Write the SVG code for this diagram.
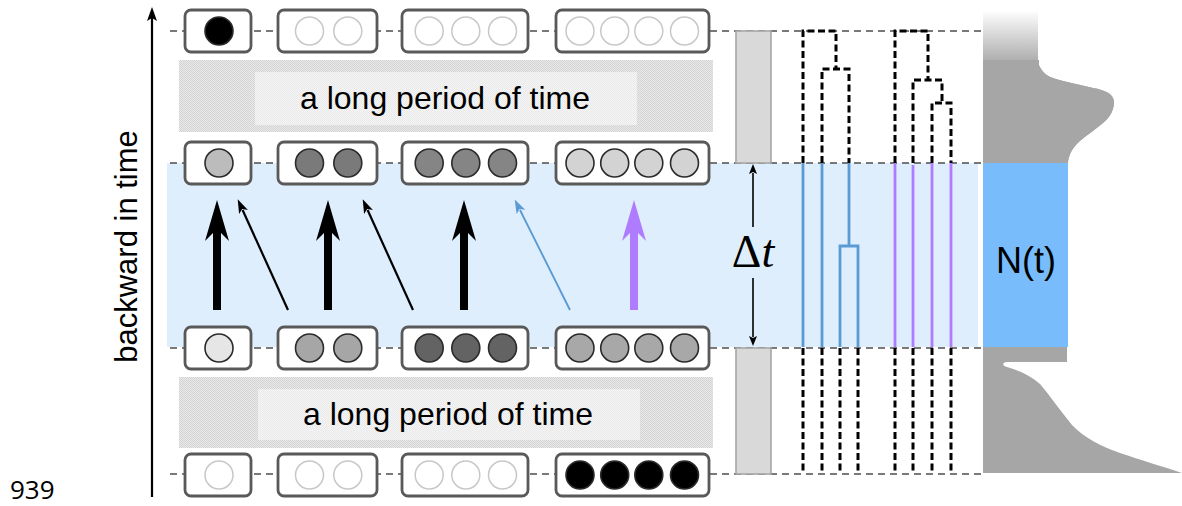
<svg xmlns="http://www.w3.org/2000/svg" width="1182" height="506" viewBox="0 0 1182 506">
<style>
.box{fill:#fff;stroke:#595959;stroke-width:2.8}
.e{fill:#fff;stroke:#c8c8c8;stroke-width:1.5}
.f{stroke:#2b2b2b;stroke-width:1.6}
.hd{stroke:#4d4d4d;stroke-width:1.4;stroke-dasharray:7 5;fill:none}
.vd{stroke:#000;stroke-width:3;stroke-dasharray:7 3.5;fill:none}
.bl{stroke:#5b9bd5;stroke-width:2.8;fill:none}
.pu{stroke:#b07cff;stroke-width:2.8;fill:none}
.lbl{font-family:"Liberation Sans",Arial,sans-serif;fill:#000}
.bar{fill:#d9d9d9;stroke:#a6a6a6;stroke-width:1.6}
</style>
<defs>
<pattern id="dith" width="2" height="2" patternUnits="userSpaceOnUse">
<rect width="2" height="2" fill="#ebebeb"/><rect width="1" height="1" fill="#d2d2d2"/><rect x="1" y="1" width="1" height="1" fill="#d2d2d2"/>
</pattern>
<pattern id="dith2" width="2" height="2" patternUnits="userSpaceOnUse">
<rect width="2" height="2" fill="#f5f5f5"/><rect width="1" height="1" fill="#e9e9e9"/><rect x="1" y="1" width="1" height="1" fill="#e9e9e9"/>
</pattern>
<linearGradient id="fade" x1="0" y1="10" x2="0" y2="66" gradientUnits="userSpaceOnUse">
<stop offset="0" stop-color="#ffffff"/><stop offset="1" stop-color="#a6a6a6"/>
</linearGradient>
<marker id="thinB" markerUnits="userSpaceOnUse" markerWidth="14" markerHeight="10" refX="2" refY="4.5" orient="auto" viewBox="0 0 13 9">
<path d="M0,0 L13,4.5 L0,9 L3,4.5 Z" fill="#5b9bd5"/>
</marker>
<marker id="thinK" markerUnits="userSpaceOnUse" markerWidth="14" markerHeight="10" refX="2" refY="4.5" orient="auto" viewBox="0 0 13 9">
<path d="M0,0 L13,4.5 L0,9 L3,4.5 Z" fill="#000"/>
</marker>
<marker id="dt" markerUnits="userSpaceOnUse" markerWidth="10" markerHeight="8" refX="1" refY="4" orient="auto" viewBox="0 0 10 8">
<path d="M0,0 L10,4 L0,8 L2,4 Z" fill="#000"/>
</marker>
</defs>

<rect width="1182" height="506" fill="#fff"/>

<g id="bands">
<rect x="167" y="163" width="811" height="184" fill="#dfeefd"/>
<rect x="179" y="60" width="534" height="72" fill="url(#dith)"/>
<rect x="255" y="72" width="382" height="53" fill="url(#dith2)"/>
<rect x="179" y="377" width="534" height="71" fill="url(#dith)"/>
<rect x="258" y="389" width="382" height="51" fill="url(#dith2)"/>
<text class="lbl" x="445" y="109" font-size="32" text-anchor="middle">a long period of time</text>
<text class="lbl" x="448" y="425" font-size="32" text-anchor="middle">a long period of time</text>
</g>

<g id="population">
<path d="M983,10 H1038 V62 C1040,70 1046,76 1053,78 C1062,81 1080,85 1093,88 C1105,90 1114,94 1114,102 C1114,112 1108,120 1098,127 C1088,135 1076,142 1071,152 C1069,156 1068,160 1068,163 H983 Z" fill="url(#fade)"/>
<rect x="983" y="60" width="56" height="103" fill="#a6a6a6"/>
<path d="M1038,60 V62 C1040,70 1046,76 1053,78 C1062,81 1080,85 1093,88 C1105,90 1114,94 1114,102 C1114,112 1108,120 1098,127 C1088,135 1076,142 1071,152 C1069,156 1068,160 1068,163 H1030 V60 Z" fill="#a6a6a6"/>
<path d="M983,347 H1067 V362 H1007 C1002,362 1002,366 1007,367 C1018,370 1030,375 1040,384 C1050,396 1060,410 1072,425 C1085,438 1100,446 1120,453 C1140,460 1165,467 1182,473 H983 Z" fill="#a6a6a6"/>
<rect x="983" y="163" width="85" height="184" fill="#78bcfb"/>
<text class="lbl" x="1026" y="273" font-size="36" text-anchor="middle">N(t)</text>
</g>

<g id="guides">
<line class="hd" x1="170" y1="31" x2="985" y2="31"/>
<line class="hd" x1="170" y1="163" x2="985" y2="163"/>
<line class="hd" x1="170" y1="348" x2="985" y2="348"/>
<line class="hd" x1="170" y1="474" x2="985" y2="474"/>
</g>

<g id="axis">
<line x1="152" y1="497" x2="152" y2="18" stroke="#000" stroke-width="2.2"/>
<path d="M152,7 L157,21 L152,18 L147,21 Z" fill="#000"/>
<text class="lbl" transform="translate(137,246.5) rotate(-90)" font-size="31" text-anchor="middle">backward in time</text>
<text x="10" y="499" font-family="'Open Sans','Liberation Sans',sans-serif" font-size="26" fill="#000">939</text>
</g>

<g id="bar-top"><rect class="bar" x="736" y="31" width="35" height="132"/></g>
<g id="bar-bottom"><rect class="bar" x="736" y="348" width="35" height="126"/></g>
<g id="delta-t">
<line x1="753" y1="227" x2="753" y2="173" stroke="#000" stroke-width="1.6" marker-end="url(#dt)"/>
<line x1="753" y1="278" x2="753" y2="337" stroke="#000" stroke-width="1.6" marker-end="url(#dt)"/>
<text x="753" y="267" font-family="'Liberation Serif','DejaVu Serif',serif" font-size="46" text-anchor="middle" fill="#000">Δ<tspan font-style="italic">t</tspan></text>
</g>

<g id="r1b1"><rect class="box" x="185" y="10" width="66" height="42" rx="6"/><circle class="f" cx="219" cy="31" r="14" fill="#000"/></g>
<g id="r1b2"><rect class="box" x="278" y="10" width="99" height="42" rx="6"/><circle class="e" cx="309.5" cy="31" r="14"/><circle class="e" cx="347.8" cy="31" r="14"/></g>
<g id="r1b3"><rect class="box" x="402" y="10" width="126" height="42" rx="6"/><circle class="e" cx="429.2" cy="31" r="14"/><circle class="e" cx="465.8" cy="31" r="14"/><circle class="e" cx="502.5" cy="31" r="14"/></g>
<g id="r1b4"><rect class="box" x="556" y="10" width="153" height="42" rx="6"/><circle class="e" cx="580" cy="31" r="14"/><circle class="e" cx="614.7" cy="31" r="14"/><circle class="e" cx="648.8" cy="31" r="14"/><circle class="e" cx="684.5" cy="31" r="14"/></g>

<g id="r2b1"><rect class="box" x="185" y="142" width="66" height="42" rx="6"/><circle class="f" cx="219" cy="163" r="14" fill="#bcbcbc"/></g>
<g id="r2b2"><rect class="box" x="278" y="142" width="99" height="42" rx="6"/><circle class="f" cx="309.5" cy="163" r="14" fill="#7a7a7a"/><circle class="f" cx="347.8" cy="163" r="14" fill="#7a7a7a"/></g>
<g id="r2b3"><rect class="box" x="402" y="142" width="126" height="42" rx="6"/><circle class="f" cx="429.2" cy="163" r="14" fill="#858585"/><circle class="f" cx="465.8" cy="163" r="14" fill="#858585"/><circle class="f" cx="502.5" cy="163" r="14" fill="#858585"/></g>
<g id="r2b4"><rect class="box" x="556" y="142" width="153" height="42" rx="6"/><circle class="f" cx="580" cy="163" r="14" fill="#d3d3d3"/><circle class="f" cx="614.7" cy="163" r="14" fill="#d3d3d3"/><circle class="f" cx="648.8" cy="163" r="14" fill="#d3d3d3"/><circle class="f" cx="684.5" cy="163" r="14" fill="#d3d3d3"/></g>

<g id="r3b1"><rect class="box" x="185" y="327" width="66" height="42" rx="6"/><circle class="f" cx="219" cy="348" r="14" fill="#e6e6e6"/></g>
<g id="r3b2"><rect class="box" x="278" y="327" width="99" height="42" rx="6"/><circle class="f" cx="309.5" cy="348" r="14" fill="#a6a6a6"/><circle class="f" cx="347.8" cy="348" r="14" fill="#a6a6a6"/></g>
<g id="r3b3"><rect class="box" x="402" y="327" width="126" height="42" rx="6"/><circle class="f" cx="429.2" cy="348" r="14" fill="#636363"/><circle class="f" cx="465.8" cy="348" r="14" fill="#636363"/><circle class="f" cx="502.5" cy="348" r="14" fill="#636363"/></g>
<g id="r3b4"><rect class="box" x="556" y="327" width="153" height="42" rx="6"/><circle class="f" cx="580" cy="348" r="14" fill="#a8a8a8"/><circle class="f" cx="614.7" cy="348" r="14" fill="#a8a8a8"/><circle class="f" cx="648.8" cy="348" r="14" fill="#a8a8a8"/><circle class="f" cx="684.5" cy="348" r="14" fill="#a8a8a8"/></g>

<g id="r4b1"><rect class="box" x="185" y="454" width="66" height="42" rx="6"/><circle class="e" cx="219" cy="475" r="14"/></g>
<g id="r4b2"><rect class="box" x="278" y="454" width="99" height="42" rx="6"/><circle class="e" cx="309.5" cy="475" r="14"/><circle class="e" cx="347.8" cy="475" r="14"/></g>
<g id="r4b3"><rect class="box" x="402" y="454" width="126" height="42" rx="6"/><circle class="e" cx="429.2" cy="475" r="14"/><circle class="e" cx="465.8" cy="475" r="14"/><circle class="e" cx="502.5" cy="475" r="14"/></g>
<g id="r4b4"><rect class="box" x="556" y="454" width="153" height="42" rx="6"/><circle class="f" cx="580" cy="475" r="14" fill="#000"/><circle class="f" cx="614.7" cy="475" r="14" fill="#000"/><circle class="f" cx="648.8" cy="475" r="14" fill="#000"/><circle class="f" cx="684.5" cy="475" r="14" fill="#000"/></g>

<g id="connectors">
<path d="M217,200 L229,241 L221,233 L221,310 L213,310 L213,233 L205,241 Z" fill="#000"/>
<path d="M328,200 L340,241 L332,233 L332,310 L324,310 L324,233 L316,241 Z" fill="#000"/>
<path d="M464,200 L476,241 L468,233 L468,310 L460,310 L460,233 L452,241 Z" fill="#000"/>
<path d="M634,200 L646,241 L638,233 L638,310 L630,310 L630,233 L622,241 Z" fill="#b07cff"/>
<line x1="288" y1="310" x2="242.6" y2="210" stroke="#000" stroke-width="2.2" marker-end="url(#thinK)"/>
<line x1="413" y1="310" x2="367.6" y2="210" stroke="#000" stroke-width="2.2" marker-end="url(#thinK)"/>
<line x1="570" y1="310" x2="520" y2="210" stroke="#5b9bd5" stroke-width="1.9" marker-end="url(#thinB)"/>

<line class="bl" x1="803" y1="163" x2="803" y2="347"/>
<line class="bl" x1="822" y1="163" x2="822" y2="347"/>
<path class="bl" d="M849,163 V246 M840,347 V246 H858 V347"/>
<line class="pu" x1="895" y1="163" x2="895" y2="347"/>
<line class="pu" x1="913" y1="165" x2="913" y2="347"/>
<line class="pu" x1="932" y1="163" x2="932" y2="347"/>
<line class="pu" x1="951" y1="163" x2="951" y2="347"/>

<path class="vd" d="M803,163 V31 H836 V69 M822,163 V69 H849 V163"/>
<path class="vd" d="M895,163 V31 H928 V80 M913,163 V80 H942 V103 M932,163 V103 H951 V163"/>

<path class="vd" d="M803,348 V474 M822,348 V474 M840,348 V474 M858,348 V474 M895,348 V474 M913,348 V474 M932,348 V474 M951,348 V474"/>
</g>
</svg>
